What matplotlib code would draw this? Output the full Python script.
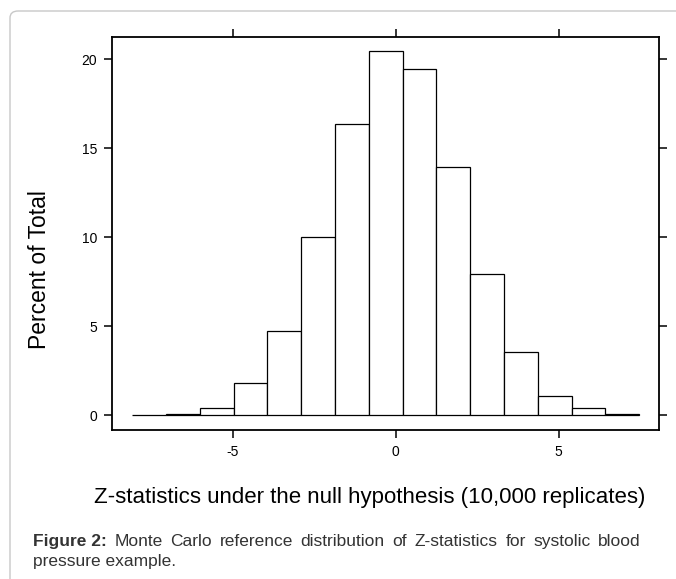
import matplotlib
matplotlib.use('Agg')
import matplotlib.pyplot as plt
import numpy as np
from matplotlib.patches import FancyBboxPatch

plt.rcParams['font.family'] = ['Liberation Sans', 'DejaVu Sans']

# Data: percent of total per bin (15 equal-width bins)
z_min, z_max = -8.09, 7.47
percent = [0.02, 0.08, 0.41, 1.82, 4.75, 10.0, 16.34, 20.45,
           19.44, 13.93, 7.91, 3.53, 1.09, 0.39, 0.05]
x_ticks = [-5, 0, 5]
y_ticks = [0, 5, 10, 15, 20]

edges = np.linspace(z_min, z_max, len(percent) + 1)
widths = np.diff(edges)

W, H = 676, 579
fig = plt.figure(figsize=(W / 100, H / 100), dpi=100, facecolor='white')

# light rounded frame around the figure panel
frame = FancyBboxPatch((10 / W, -30 / H), (W + 40) / W, (H + 19) / H,
                       boxstyle='round,pad=0,rounding_size=0.012',
                       transform=fig.transFigure, facecolor='none',
                       edgecolor='#c8c8c8', linewidth=1.0, zorder=0)
fig.patches.append(frame)

ax_l, ax_r, ax_t, ax_b = 111.7, 659, 36.7, 430
ax = fig.add_axes([ax_l / W, 1 - ax_b / H, (ax_r - ax_l) / W, (ax_b - ax_t) / H])
ax.bar(edges[:-1], percent, width=widths, align='edge',
       facecolor='white', edgecolor='black', linewidth=0.9)

ax.set_xlim(-8.72, 8.08)
ax.set_ylim(-0.84, 21.27)
ax.set_xticks(x_ticks)
ax.set_yticks(y_ticks)
ax.set_xticklabels([str(v) for v in x_ticks])
ax.set_yticklabels([str(v) for v in y_ticks])
ax.tick_params(direction='out', length=5.5, width=1.1, top=True, right=True,
               labeltop=False, labelright=False, labelsize=10, pad=5, colors='black')

for spine in ax.spines.values():
    spine.set_linewidth(1.3)

# axis labels placed in figure pixels
fig.text(40 / W, 1 - 270 / H, 'Percent of Total', fontsize=16.5, rotation=90,
         ha='center', va='center')
fig.text(370 / W, 1 - 497 / H,
         'Z-statistics under the null hypothesis (10,000 replicates)',
         fontsize=16, ha='center', va='center')

# caption, first line justified between x=33 and x=641
renderer = fig.canvas.get_renderer()
cap_size = 12.5
cap_col = '#333333'
base1, base2 = 1 - 546 / H, 1 - 566 / H
line1 = [('Figure 2:', 'bold')] + [(w, 'normal') for w in
         'Monte Carlo reference distribution of Z-statistics for systolic blood'.split()]
texts = []
total = 0
for word, weight in line1:
    t = fig.text(0, base1, word, fontsize=cap_size, fontweight=weight,
                 color=cap_col, va='baseline')
    w = t.get_window_extent(renderer=renderer).width
    texts.append((t, w))
    total += w
gap = (641 - 33 - total) / (len(texts) - 1)
x = 33
for t, w in texts:
    t.set_x(x / W)
    x += w + gap
fig.text(33 / W, base2, 'pressure example.', fontsize=cap_size,
         color=cap_col, va='baseline')

fig.savefig('out.png', dpi=100, facecolor='white')
